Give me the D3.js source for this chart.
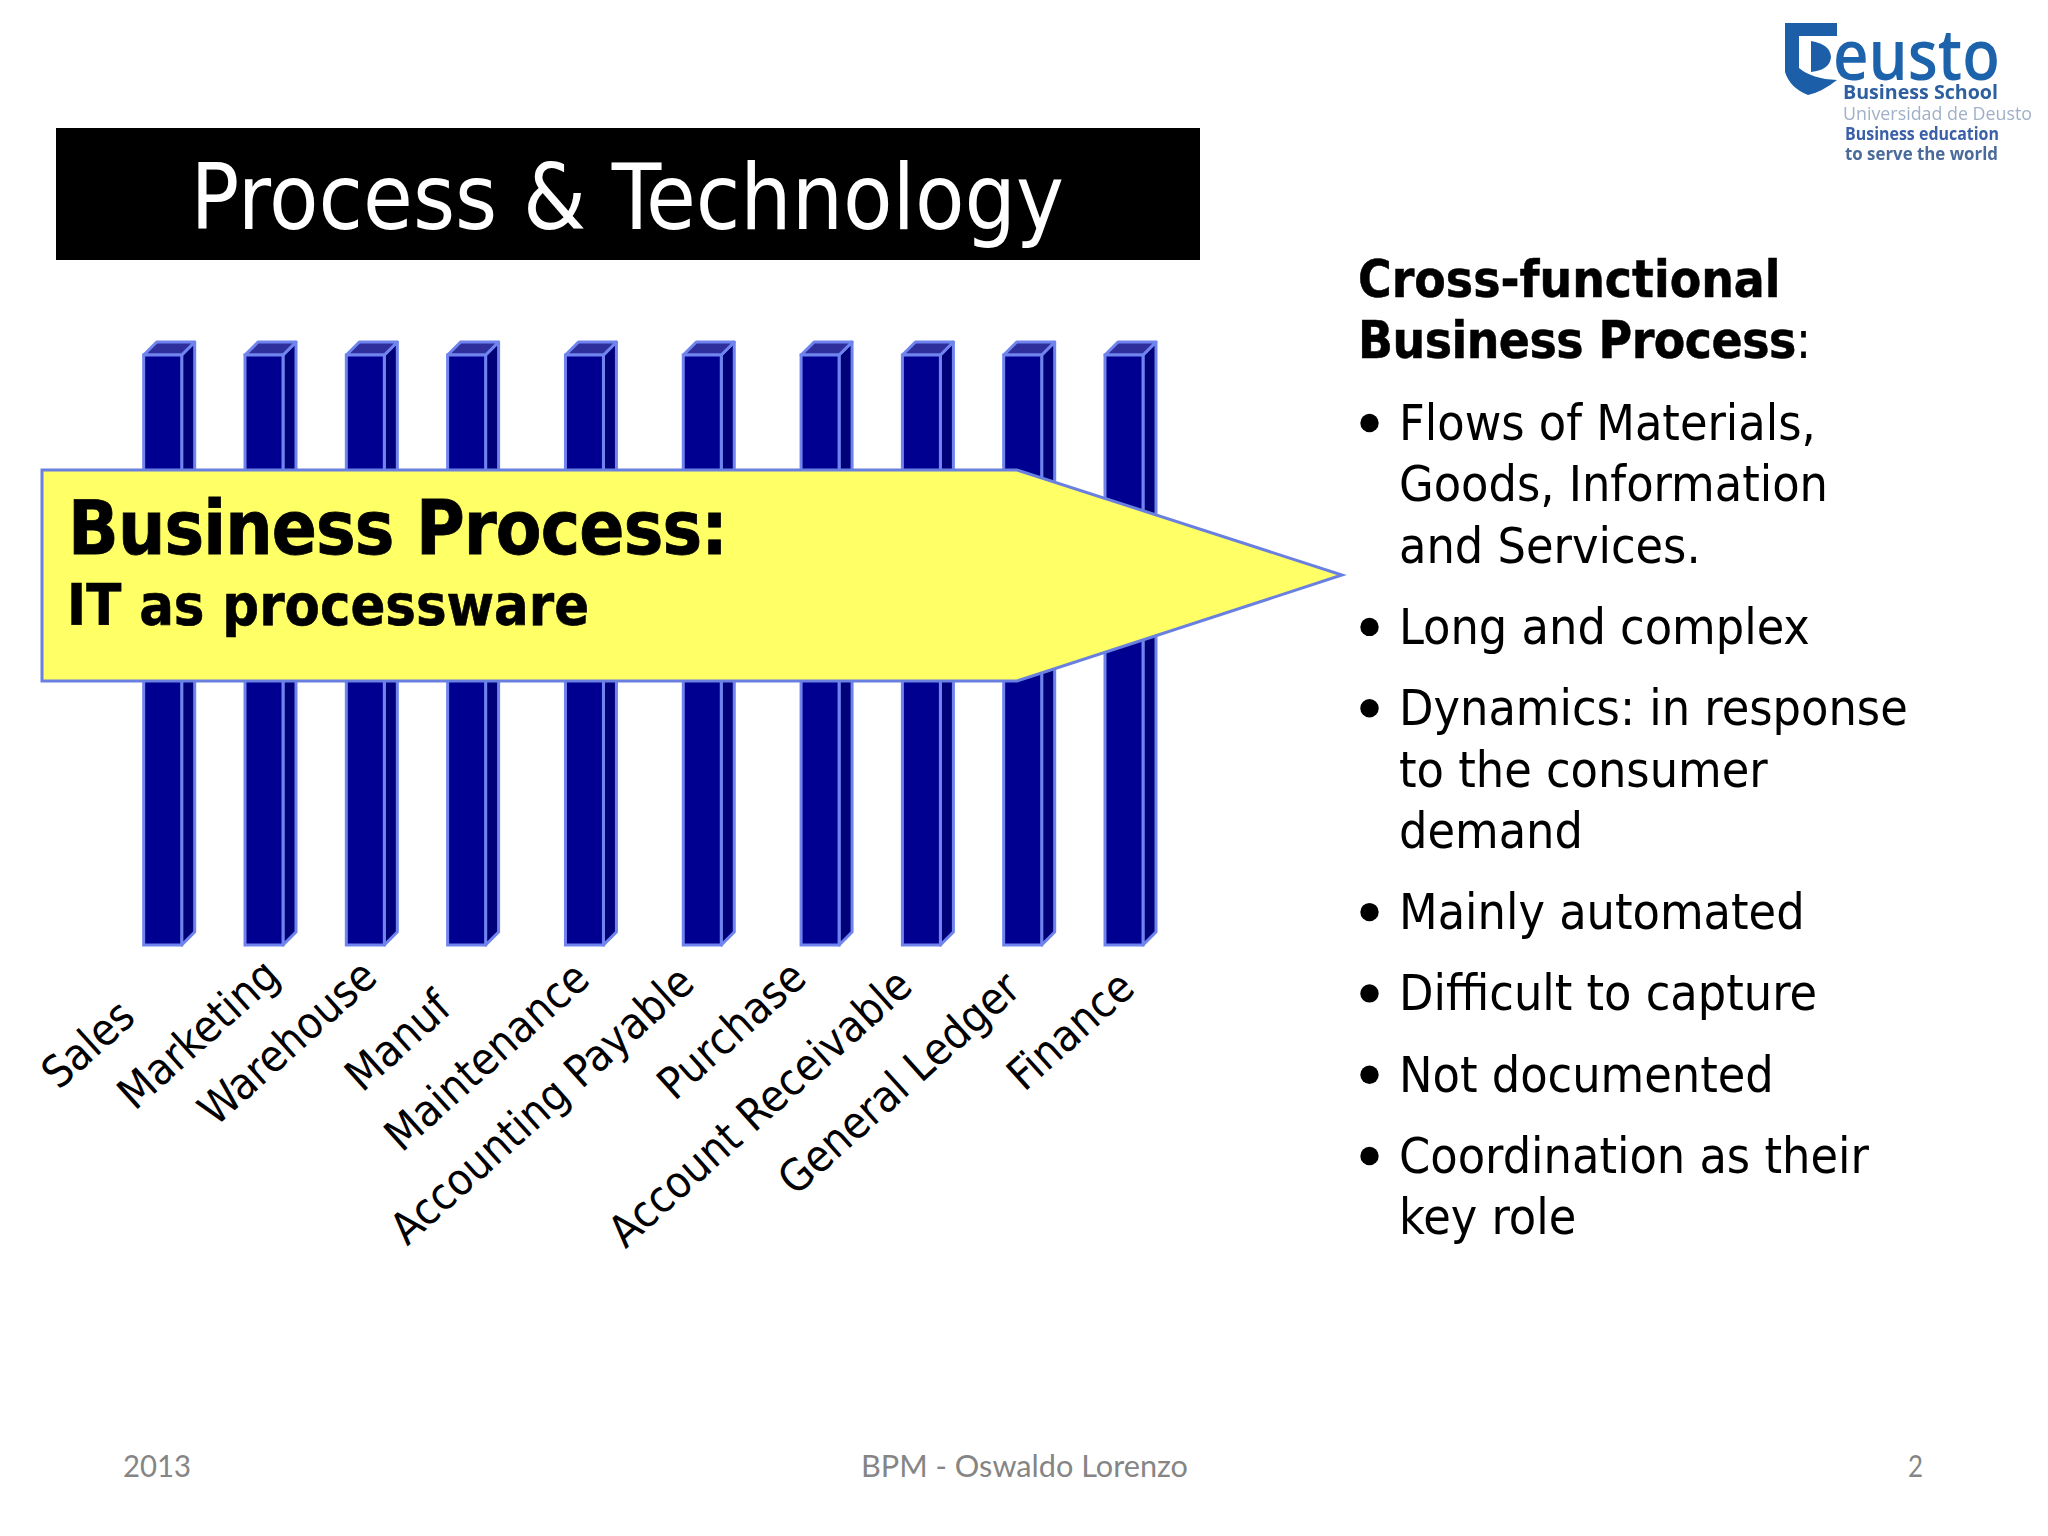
<!DOCTYPE html>
<html><head><meta charset="utf-8">
<script src="https://cdn.jsdelivr.net/npm/d3@7/dist/d3.min.js"></script>
<style>
html,body{margin:0;padding:0;background:#fff}
svg{display:block}
text{font-family:"DejaVu Sans Condensed","DejaVu Sans";font-stretch:condensed}
</style></head><body>
<svg id="c" width="2048" height="1536" viewBox="0 0 2048 1536"></svg>
<script>
const categories = ["Sales","Marketing","Warehouse","Manuf","Maintenance","Accounting Payable","Purchase","Account Receivable","General Ledger","Finance"];
const groups = [0,0,0,0,1,2,3,3,3,3];
const values = [100,100,100,100,100,100,100,100,100,100];
const titleText = "Process & Technology";
const arrowHead = "Business Process:";
const arrowSub = "IT as processware";
const sideHead = ["Cross-functional","Business Process"];
const bullets = [
 ["Flows of Materials,","Goods, Information","and Services."],
 ["Long and complex"],
 ["Dynamics: in response","to the consumer","demand"],
 ["Mainly automated"],
 ["Difficult to capture"],
 ["Not documented"],
 ["Coordination as their","key role"]
];
const footer = ["2013","BPM - Oswaldo Lorenzo","2"];
const logoLines = ["eusto","Business School","Universidad de Deusto","Business education","to serve the world"];

const svg = d3.select("#c");
svg.append("rect").attr("width",2048).attr("height",1536).attr("fill","#fff");

// logo
const defs = svg.append("defs");
defs.append("filter").attr("id","soft").append("feGaussianBlur").attr("stdDeviation",0.7);
const logo = svg.append("g").attr("filter","url(#soft)");
logo.append("path").attr("fill","#1b5fa8").attr("d","M1785 23H1837V36H1799V68Q1812 79 1837 80Q1822 92 1808 95Q1790 88 1785 72Z");
logo.append("path").attr("fill","#1b5fa8").attr("d","M1811 41Q1830 44 1831 57Q1830 70 1811 72Z");
const logoStyle = [
 {x:1833,y:80,s:70,w:600,f:"#1f63ab",len:167},
 {x:1843,y:99,s:20,w:700,f:"#2d5f9e",len:155},
 {x:1843,y:120,s:19,w:400,f:"#9fb0c8",len:189},
 {x:1845,y:140,s:17.5,w:700,f:"#3a60a8",len:154},
 {x:1845,y:160,s:17.5,w:700,f:"#4a6a9a",len:153}
];
logo.selectAll("text").data(logoLines).join("text")
 .attr("x",(d,i)=>logoStyle[i].x).attr("y",(d,i)=>logoStyle[i].y)
 .style("font-family","Open Sans").style("font-stretch","normal")
 .attr("font-size",(d,i)=>logoStyle[i].s).attr("font-weight",(d,i)=>logoStyle[i].w)
 .attr("textLength",(d,i)=>logoStyle[i].len).attr("lengthAdjust","spacingAndGlyphs")
 .attr("fill",(d,i)=>logoStyle[i].f).text(d=>d);

// title
svg.append("rect").attr("x",56).attr("y",128).attr("width",1144).attr("height",132).attr("fill","#000");
svg.append("text").attr("x",190.5).attr("y",229).attr("font-size",90).attr("fill","#fff").text(titleText);

// bars
const gapRatio = 0.163;
const slot = categories.map((c,i)=>i+groups[i]*gapRatio);
const xLin = d3.scaleLinear().domain([0,d3.max(slot)]).range([143.7,1105]);
const x = d3.scaleOrdinal().domain(categories).range(slot.map(xLin));
const y = d3.scaleLinear().domain([0,100]).range([945,355]);
const barW = 38, depth = 13;
const stroke = "#7084ee", sw = 3;
const bars = svg.append("g").selectAll("g").data(categories).join("g");
bars.append("path").attr("fill","#000078").attr("stroke",stroke).attr("stroke-width",sw).attr("stroke-linejoin","round")
 .attr("d",(c,i)=>{const X=x(c)+barW,T=y(values[i]),B=y(0);return `M${X} ${T}L${X+depth} ${T-depth}V${B-depth}L${X} ${B}Z`;});
bars.append("path").attr("fill","#2e2e9c").attr("stroke",stroke).attr("stroke-width",sw).attr("stroke-linejoin","round")
 .attr("d",(c,i)=>{const X=x(c),T=y(values[i]);return `M${X} ${T}L${X+depth} ${T-depth}H${X+barW+depth}L${X+barW} ${T}Z`;});
bars.append("rect").attr("fill","#000090").attr("stroke",stroke).attr("stroke-width",sw)
 .attr("x",c=>x(c)).attr("y",(c,i)=>y(values[i])).attr("width",barW).attr("height",(c,i)=>y(0)-y(values[i]));

// category labels
const labelEnd = {"Sales":[137.5,1020],"Marketing":[282,979],"Warehouse":[379.5,980],"Manuf":[453.6,1011],"Maintenance":[592,982],"Accounting Payable":[696.6,986],"Purchase":[808.6,981],"Account Receivable":[914.6,989],"General Ledger":[1023,992],"Finance":[1137,991]};
const axis = d3.axisBottom(x).tickSize(0).tickPadding(0);
const axG = svg.append("g").call(axis);
axG.select(".domain").remove();
axG.attr("font-family",null).attr("font-size",null);
axG.selectAll(".tick").attr("transform",null);
axG.selectAll(".tick text")
 .attr("x",0).attr("y",0).attr("dy",0)
 .attr("text-anchor","end").attr("font-size",44.2).attr("fill","#000")
 .attr("transform",c=>`translate(${labelEnd[c][0]},${labelEnd[c][1]}) rotate(-42)`);

// arrow
svg.append("path").attr("fill","#ffff66").attr("stroke","#6a80e0").attr("stroke-width",3).attr("stroke-linejoin","miter")
 .attr("d","M42 470H1017L1342 575L1017 681H42Z");
svg.append("text").attr("x",68).attr("y",554).attr("font-size",74).attr("font-weight",700).attr("letter-spacing",-0.85).attr("stroke","#000").attr("stroke-width",0.8).text(arrowHead);
svg.append("text").attr("x",67).attr("y",625).attr("font-size",57.2).attr("font-weight",700).attr("stroke","#000").attr("stroke-width",0.6).text(arrowSub);

// side text
svg.append("text").attr("x",1358).attr("y",297).attr("font-size",51).attr("font-weight",700).attr("stroke","#000").attr("stroke-width",0.5).text(sideHead[0]);
const h2 = svg.append("text").attr("x",1358).attr("y",358).attr("font-size",51);
h2.append("tspan").attr("font-weight",700).attr("letter-spacing",-0.5).attr("stroke","#000").attr("stroke-width",0.5).text(sideHead[1]);
h2.append("tspan").text(":");
const lineH = 61.3, paraGap = 20;
let by = 440;
bullets.forEach(lines=>{
  svg.append("circle").attr("cx",1369.5).attr("cy",by-17).attr("r",9.2).attr("fill","#000");
  lines.forEach((l,k)=>{
    svg.append("text").attr("x",1399).attr("y",by+k*lineH).attr("font-size",49.8).text(l);
  });
  by += lines.length*lineH + paraGap;
});

// footer
const fx=[123,861,1908], fl=[68,327,15];
svg.selectAll("text.f").data(footer).join("text").attr("class","f")
 .attr("x",(d,i)=>fx[i]).attr("y",1477)
 .attr("textLength",(d,i)=>fl[i]).attr("lengthAdjust","spacingAndGlyphs")
 .style("font-family","Lato").style("font-stretch","normal").attr("font-size",31).attr("fill","#858585").text(d=>d);
</script>
</body></html>
